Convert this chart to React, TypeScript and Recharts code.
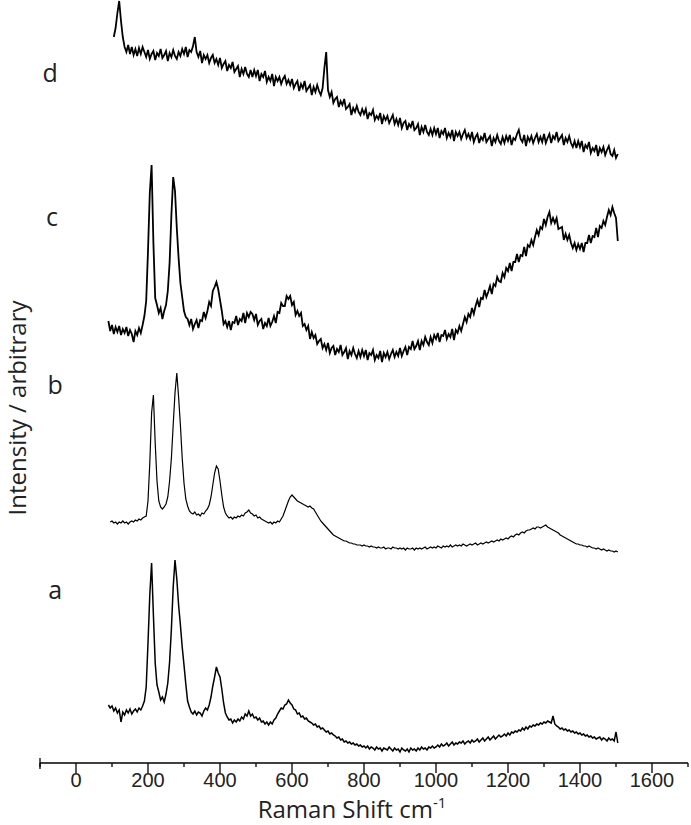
import React from 'react'
import {
  LineChart,
  Line,
  XAxis,
  YAxis,
  Label,
  ReferenceDot,
  ReferenceLine,
} from 'recharts'

// Raman shift grid, cm-1 (90 ... 1505, every 5)
const shift: number[] = Array.from({ length: 284 }, (_, i) => 90 + i * 5)

// axis ticks: labelled every 200, minor ticks on the odd hundreds
const xTicks = [-100, 0, 100, 200, 300, 400, 500, 600, 700, 800, 900, 1000, 1100, 1200, 1300, 1400, 1500, 1600, 1700]

// intensities (arbitrary units, curves already offset for stacking)
const seriesA: (number | null)[] = [
  58, 55, 57, 52, 55, 50, 53, 41, 51, 48, 53, 50, 54, 49, 52, 54, 51, 55, 53, 57,
  62, 76, 120, 168, 200, 148, 100, 78, 71, 63, 66, 61, 69, 80, 101, 134, 176, 203, 184, 158,
  138, 116, 98, 79, 62, 56, 51, 49, 52, 48, 51, 50, 47, 52, 55, 53, 58, 66, 77, 86,
  96, 90, 86, 74, 60, 50, 46, 43, 44, 40, 43, 41, 44, 42, 46, 44, 49, 47, 52, 47,
  49, 45, 46, 43, 45, 41, 42, 39, 41, 38, 41, 39, 43, 45, 49, 52, 55, 54, 58, 59,
  63, 60, 58, 54, 53, 49, 50, 46, 47, 44, 45, 42, 41, 40, 38, 39, 36, 37, 34, 35,
  33, 31, 32, 29, 30, 28, 27, 25, 26, 23, 24, 21, 22, 20, 21, 19, 20, 18, 19, 17,
  18, 16, 17, 15, 17, 14, 16, 15, 13, 16, 14, 15, 12, 15, 14, 13, 16, 14, 12, 15,
  13, 14, 11, 15, 13, 12, 14, 11, 15, 13, 14, 12, 15, 13, 16, 14, 15, 13, 16, 15,
  17, 15, 16, 18, 16, 19, 17, 18, 20, 17, 19, 21, 18, 20, 19, 21, 20, 22, 19, 21,
  22, 20, 23, 21, 22, 24, 21, 23, 25, 22, 24, 26, 23, 25, 27, 24, 26, 28, 26, 27,
  29, 27, 30, 28, 31, 30, 32, 31, 33, 32, 35, 33, 36, 34, 37, 36, 38, 37, 39, 38,
  40, 39, 41, 40, 42, 41, 40, 47, 39, 37, 36, 34, 35, 33, 34, 32, 33, 31, 32, 30,
  31, 29, 30, 28, 29, 27, 28, 26, 27, 25, 26, 24, 25, 26, 23, 25, 24, 22, 25, 23,
  24, 22, 31, 20,
]

const seriesB: (number | null)[] = [
  null, 241, 242, 240, 241, 239, 241, 240, 242, 240, 241, 239, 241, 242, 241, 243, 242, 244, 243, 245,
  246, 247, 262, 300, 350, 368, 320, 282, 262, 256, 254, 256, 259, 266, 282, 305, 338, 370, 390, 366,
  338, 305, 280, 264, 257, 252, 250, 249, 251, 248, 249, 247, 250, 249, 252, 254, 258, 266, 278, 290,
  297, 294, 282, 268, 256, 250, 247, 245, 246, 244, 246, 245, 247, 246, 248, 247, 250, 251, 253, 250,
  249, 247, 248, 245, 246, 244, 243, 242, 241, 240, 241, 239, 241, 240, 242, 241, 244, 247, 252, 257,
  262, 266, 268, 266, 264, 262, 261, 260, 259, 258, 257, 256, 257, 255, 254, 251, 248, 245, 242, 240,
  238, 236, 234, 232, 230, 228, 227, 226, 225, 224, 223, 222, 222, 221, 220, 220, 219, 219, 218, 218,
  218, 217, 218, 217, 217, 216, 217, 216, 216, 215, 216, 215, 215, 216, 214, 215, 215, 214, 216, 215,
  215, 214, 215, 214, 215, 213, 215, 214, 214, 215, 213, 215, 214, 215, 214, 215, 216, 214, 215, 216,
  215, 216, 215, 217, 216, 215, 217, 216, 217, 216, 218, 216, 217, 218, 217, 218, 217, 219, 218, 217,
  218, 219, 218, 219, 220, 218, 219, 220, 219, 220, 221, 220, 221, 222, 221, 222, 223, 222, 224, 223,
  224, 225, 224, 226, 227, 226, 228, 229, 228, 230, 231, 230, 232, 233, 233, 234, 235, 234, 236, 236,
  235, 236, 237, 238, 236, 235, 234, 233, 232, 231, 230, 228, 227, 226, 225, 224, 223, 222, 221, 220,
  219, 219, 218, 218, 217, 217, 216, 217, 216, 215, 215, 214, 215, 214, 213, 214, 213, 212, 213, 212,
  212, 211, 212, 211,
]

const seriesC: (number | null)[] = [
  442, 432, 438, 429, 436, 431, 437, 428, 434, 430, 436, 427, 433, 429, 421, 432, 428, 435, 430, 438,
  447, 462, 512, 570, 598, 520, 465, 458, 450, 455, 444, 452, 458, 472, 500, 548, 586, 572, 535, 505,
  480, 466, 452, 446, 444, 438, 444, 434, 439, 443, 435, 443, 442, 451, 445, 452, 461, 457, 472, 476,
  481, 474, 463, 452, 439, 442, 436, 442, 433, 441, 440, 447, 438, 444, 442, 450, 440, 450, 446, 451,
  449, 443, 449, 438, 442, 444, 434, 440, 437, 445, 437, 441, 447, 440, 451, 450, 460, 457, 457, 467,
  464, 467, 458, 461, 448, 452, 447, 450, 437, 439, 433, 437, 424, 431, 425, 428, 419, 422, 424, 415,
  419, 413, 420, 410, 415, 417, 408, 414, 411, 418, 408, 411, 415, 404, 412, 408, 415, 409, 405, 412,
  406, 413, 407, 413, 403, 410, 408, 413, 403, 408, 405, 412, 401, 410, 406, 411, 404, 409, 413, 406,
  411, 407, 415, 407, 412, 416, 408, 416, 414, 422, 414, 417, 422, 413, 422, 418, 426, 421, 418, 426,
  420, 428, 424, 430, 421, 428, 427, 433, 424, 429, 426, 434, 423, 433, 430, 437, 432, 439, 446, 441,
  449, 446, 455, 449, 457, 463, 456, 465, 464, 473, 466, 471, 477, 469, 479, 477, 486, 482, 481, 490,
  486, 495, 492, 500, 492, 501, 501, 509, 501, 508, 507, 516, 507, 518, 516, 523, 518, 526, 533, 528,
  536, 534, 544, 538, 546, 551, 540, 545, 540, 545, 534, 535, 536, 523, 529, 523, 528, 520, 515, 520,
  513, 519, 514, 520, 511, 520, 520, 528, 520, 527, 526, 535, 526, 537, 535, 542, 538, 546, 553, 548,
  556, 550, 545, 522,
]

const seriesD: (number | null)[] = [
  null, null, null, 726, 735, 750, 762, 742, 726, 716, 711, 718, 709, 716, 708, 714, 707, 715, 709, 716,
  711, 706, 713, 704, 709, 712, 703, 710, 707, 714, 705, 708, 712, 702, 710, 706, 713, 707, 704, 711,
  707, 714, 709, 716, 706, 713, 711, 717, 726, 711, 706, 712, 700, 708, 704, 708, 700, 705, 708, 700,
  704, 698, 705, 695, 699, 702, 692, 698, 695, 701, 691, 694, 697, 686, 694, 689, 696, 689, 686, 693,
  686, 693, 687, 693, 682, 689, 686, 692, 681, 686, 682, 689, 677, 686, 682, 686, 679, 684, 687, 679,
  683, 678, 684, 675, 679, 682, 672, 679, 675, 682, 672, 675, 678, 668, 676, 671, 678, 672, 668, 675,
  695, 711, 673, 666, 671, 660, 664, 666, 656, 662, 658, 664, 654, 656, 659, 648, 655, 651, 657, 651,
  648, 654, 649, 654, 644, 650, 648, 653, 643, 647, 644, 650, 639, 647, 643, 647, 640, 644, 648, 639,
  644, 638, 645, 635, 640, 642, 633, 639, 636, 642, 633, 635, 639, 628, 636, 631, 638, 631, 628, 634,
  628, 635, 629, 635, 625, 632, 629, 635, 625, 630, 626, 633, 622, 631, 627, 631, 624, 629, 633, 625,
  629, 624, 631, 621, 626, 629, 620, 626, 623, 630, 621, 624, 627, 617, 625, 621, 628, 622, 619, 626,
  620, 627, 622, 628, 618, 625, 623, 629, 633, 624, 621, 628, 617, 626, 622, 627, 620, 625, 629, 621,
  626, 621, 629, 620, 625, 629, 620, 627, 624, 631, 622, 625, 628, 618, 625, 621, 627, 620, 616, 622,
  615, 622, 616, 622, 611, 618, 615, 621, 610, 615, 612, 618, 607, 615, 611, 616, 608, 613, 617, 609,
  607, 613, 605, 609,
]

// curve letters and where they sit (x in cm-1, y in intensity units)
const curveNames = ['d', 'c', 'b', 'a']
const nameX = [-72, -67, -58, -58]
const nameY = [690, 546, 378, 173]

const data = shift.map((s, i) => ({
  shift: s,
  a: seriesA[i],
  b: seriesB[i],
  c: seriesC[i],
  d: seriesD[i],
}))

const textFont = '"Open Sans", "Noto Sans", sans-serif'

const AxisTick = (props: any) => {
  const { x, y, payload } = props
  const v = payload.value as number
  const major = v % 200 === 0
  return (
    <g>
      <line x1={x} x2={x} y1={y} y2={y + (major ? 10 : 4)} stroke="#000" strokeWidth={1.3} />
      {major && (
        <text
          x={x}
          y={y + 24}
          textAnchor="middle"
          fontFamily='"Liberation Sans", Arial, sans-serif'
          fontSize={20}
          fill="#222"
        >
          {v}
        </text>
      )}
    </g>
  )
}

const XTitle = (props: any) => {
  const vb = props.viewBox
  return (
    <text
      x={vb.x + vb.width / 2 - 12}
      y={vb.y + 55}
      textAnchor="middle"
      fontFamily={textFont}
      fontSize={24}
      fill="#222"
    >
      Raman Shift cm
      <tspan dy={-10} fontSize={15}>
        -1
      </tspan>
    </text>
  )
}

const YTitle = (props: any) => {
  const vb = props.viewBox
  return (
    <text
      transform={`translate(${vb.x + 26},${vb.y + 408}) rotate(-90)`}
      textAnchor="middle"
      fontFamily={textFont}
      fontSize={24}
      fill="#222"
    >
      Intensity / arbitrary
    </text>
  )
}

export default function App() {
  return (
    <div style={{ position: 'absolute', left: 0, top: 0, background: '#fff' }}>
      <LineChart
        width={691}
        height={825}
        data={data}
        margin={{ top: 0, right: 3, bottom: 0, left: 0 }}
      >
        <XAxis
          dataKey="shift"
          type="number"
          domain={[-100, 1700]}
          ticks={xTicks}
          interval={0}
          tickSize={0}
          tickMargin={0}
          tickLine={false}
          tick={<AxisTick />}
          axisLine={{ stroke: '#000', strokeWidth: 1.3 }}
          height={62}
        >
          <Label content={<XTitle />} />
        </XAxis>
        <YAxis
          type="number"
          domain={[0, 763]}
          width={40}
          tick={false}
          tickLine={false}
          axisLine={false}
        >
          <Label content={<YTitle />} />
        </YAxis>
        <ReferenceLine
          segment={[{ x: -100, y: 5 }, { x: -100, y: -6 }]}
          stroke="#000"
          strokeWidth={1.3}
          ifOverflow="visible"
        />
        {['a', 'b', 'c', 'd'].map((k) => (
          <Line
            key={k}
            dataKey={k}
            type="linear"
            stroke="#000"
            strokeWidth={k === 'b' ? 1.2 : k === 'a' ? 1.5 : 1.8}
            dot={false}
            activeDot={false}
            isAnimationActive={false}
          />
        ))}
        {curveNames.map((n, i) => (
          <ReferenceDot
            key={n}
            x={nameX[i]}
            y={nameY[i]}
            r={0}
            ifOverflow="visible"
            stroke="none"
            label={{
              value: n,
              position: 'center',
              fontSize: 25,
              fill: '#222',
              fontFamily: textFont,
            }}
          />
        ))}
      </LineChart>
    </div>
  )
}
